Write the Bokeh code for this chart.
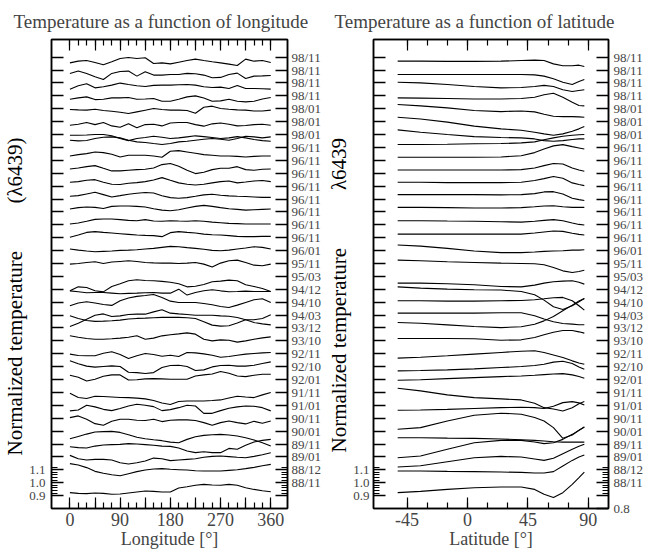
import numpy as np
from bokeh.plotting import figure
from bokeh.models import LinearAxis, FixedTicker, Range1d, Title
from bokeh.layouts import row
from bokeh.embed import file_html
from bokeh.resources import INLINE

FONT = "Liberation Serif"

# dates of the profiles, bottom (first) to top (last)
dates = ["88/11", "88/12", "89/01", "89/11", "90/01", "90/11", "91/01", "91/11",
         "92/01", "92/10", "92/11", "93/10", "93/12", "94/03", "94/10", "94/12",
         "95/03", "95/11", "96/01", "96/11", "96/11", "96/11", "96/11", "96/11",
         "96/11", "96/11", "96/11", "98/01", "98/01", "98/01", "98/11", "98/11",
         "98/11", "98/11"]

longitudes = list(range(0, 361, 15))
latitudes = [-52, -35, -15, 5, 25, 40, 50, 57, 64, 71, 78, 83, 87]

# normalized temperature vs longitude, one row per date (bottom to top)
lon_temp = [
    [0.923,0.917,0.915,0.920,0.917,0.910,0.912,0.920,0.928,0.936,0.933,0.928,0.928,0.959,0.969,0.980,0.987,0.982,0.980,0.987,0.980,0.961,0.948,0.938,0.930],
    [1.048,1.037,1.017,0.988,0.973,0.962,0.954,0.970,0.986,0.998,1.006,1.009,1.004,1.001,0.998,0.993,0.991,0.991,0.991,0.996,1.001,1.009,1.019,1.032,1.042],
    [1.012,0.986,0.976,0.981,0.981,0.976,0.955,0.945,0.955,0.968,0.991,0.986,0.971,0.976,0.981,0.986,0.997,1.004,1.007,1.002,0.997,0.994,1.004,1.017,1.033],
    [0.979,0.972,0.969,0.984,0.992,0.995,0.997,1.003,1.000,0.995,0.990,0.984,0.982,0.969,0.946,0.933,0.940,0.933,0.933,0.966,0.959,0.990,1.016,1.028,1.036],
    [0.941,0.959,0.977,0.993,0.996,0.998,0.990,0.972,0.952,0.941,0.933,0.926,0.915,0.910,0.936,0.957,0.967,0.972,0.975,0.970,0.962,0.949,0.931,0.910,0.884],
    [1.005,1.018,0.992,0.958,0.945,0.976,0.992,0.992,0.984,0.982,0.992,0.974,0.984,0.987,0.987,0.982,0.966,0.945,0.966,0.979,0.966,0.956,0.976,0.961,0.979],
    [0.957,0.964,1.001,0.988,0.969,0.959,0.975,0.995,1.008,1.001,0.990,0.959,0.967,0.982,1.001,0.995,0.938,0.938,0.959,0.977,0.988,0.995,0.993,0.982,0.957],
    [0.994,0.961,0.953,0.970,0.969,0.965,0.961,0.960,0.956,0.950,0.938,0.918,0.907,0.930,0.934,0.934,0.934,0.937,0.942,0.957,0.971,0.965,0.960,0.981,1.000],
    [1.033,1.018,0.989,1.002,1.025,1.036,1.036,0.997,0.999,1.005,1.007,1.005,1.002,1.002,1.002,1.028,1.036,1.043,1.062,1.049,1.028,1.023,1.033,1.041,1.041],
    [1.045,1.022,1.004,0.996,1.001,1.006,1.001,0.957,0.954,0.947,0.954,0.993,1.009,1.011,1.001,0.970,0.975,0.998,1.009,1.011,1.004,1.004,1.011,1.024,1.037],
    [0.997,0.986,0.984,0.984,1.004,1.015,0.994,0.963,0.984,1.002,0.994,0.981,0.989,0.979,1.010,1.007,0.999,0.989,0.973,0.979,0.989,0.997,1.002,1.007,1.010],
    [1.039,1.028,1.018,1.013,1.013,1.016,1.021,1.028,1.039,1.013,1.021,1.039,1.047,1.054,1.062,1.052,1.013,1.000,1.008,1.005,0.990,1.000,1.013,1.023,1.031],
    [1.011,1.037,1.068,1.099,1.109,1.089,1.094,1.104,1.107,1.107,1.125,1.141,1.115,1.109,1.104,1.099,1.099,1.099,1.094,1.091,1.081,1.063,1.042,1.032,1.024],
    [0.995,0.974,0.958,0.951,0.953,0.956,0.961,0.969,0.974,0.976,0.979,0.982,0.982,0.982,0.979,0.974,0.948,0.922,0.914,0.917,0.938,0.964,0.964,0.974,1.002],
    [0.972,0.993,1.003,0.993,0.982,0.975,1.011,1.032,1.045,1.052,1.060,1.037,1.008,0.998,0.998,0.998,0.990,0.980,0.967,0.959,0.977,0.998,1.019,1.026,0.998],
    [0.988,0.981,0.973,0.975,0.975,0.970,0.965,0.968,0.970,0.973,0.975,0.970,0.970,1.001,0.955,0.975,0.988,0.996,0.988,0.981,0.983,0.986,0.983,0.983,0.983],
    [0.888,0.919,0.914,0.888,0.880,0.922,0.943,0.966,0.974,0.968,0.966,0.961,0.955,0.943,0.919,0.924,0.937,0.958,0.963,0.971,0.966,0.935,0.922,0.906,0.883],
    [0.995,1.000,1.008,1.013,1.000,1.011,1.016,1.021,1.016,1.008,1.005,1.003,1.003,1.000,1.003,1.008,0.995,0.972,1.003,1.021,1.026,1.008,0.987,0.982,0.995],
    [1.012,1.004,0.997,0.991,0.994,0.997,1.002,1.004,1.007,1.012,1.017,1.025,1.033,1.030,1.023,1.017,1.010,1.002,0.999,1.004,1.012,1.020,1.030,1.025,1.012],
    [1.003,1.021,1.041,1.047,1.041,1.036,1.031,1.026,1.021,1.018,1.016,1.008,1.039,1.047,1.041,1.036,1.028,1.023,1.021,1.016,1.010,1.008,1.008,1.010,1.010],
    [1.006,1.014,1.027,1.042,1.045,1.045,1.040,1.034,1.032,1.040,1.029,1.027,1.032,1.029,1.027,1.032,1.027,1.021,1.016,1.011,1.009,1.006,1.006,1.006,1.006],
    [1.022,1.033,1.038,1.035,1.027,1.043,1.046,1.046,1.043,1.038,1.025,1.014,1.009,1.017,1.030,1.043,1.051,1.043,1.033,1.025,1.020,1.014,1.017,1.020,1.022],
    [1.021,1.026,1.039,1.052,1.034,1.016,1.026,1.037,1.045,1.050,1.047,1.026,1.011,1.006,1.011,1.021,1.032,1.037,1.029,1.024,1.021,1.019,1.016,1.013,1.013],
    [1.030,1.035,1.045,1.050,1.030,1.014,1.012,1.022,1.027,1.035,1.048,1.066,1.045,1.025,1.014,1.009,1.014,1.025,1.035,1.040,1.025,1.032,1.040,1.043,1.035],
    [1.033,1.041,1.051,1.059,1.038,1.018,1.018,1.023,1.028,1.031,1.041,1.067,1.075,1.054,1.023,0.997,1.007,1.028,1.038,1.038,1.051,1.028,1.023,1.031,1.033],
    [1.034,1.044,1.052,1.065,1.060,1.047,1.026,1.039,1.039,1.039,1.034,1.024,1.070,1.075,1.065,1.055,1.044,1.039,1.034,1.034,1.031,1.026,1.031,1.034,1.034],
    [1.056,1.051,1.054,1.069,1.079,1.082,1.074,1.056,1.043,1.038,1.030,1.023,1.030,1.043,1.048,1.056,1.064,1.069,1.064,1.056,1.069,1.087,1.082,1.074,1.082],
    [0.995,0.995,0.997,1.000,1.000,0.990,0.969,0.953,0.969,0.977,0.987,0.979,0.969,0.974,0.982,0.990,0.984,0.977,0.969,0.974,0.984,0.974,0.961,0.953,0.948],
    [0.972,0.980,0.993,0.977,0.993,0.967,0.957,0.983,0.952,0.977,0.980,0.967,0.990,0.993,0.993,0.977,0.965,0.983,0.990,0.980,0.967,0.970,0.977,0.980,0.972],
    [0.994,0.991,0.989,0.996,0.986,0.981,0.973,0.963,0.976,0.989,1.002,0.994,0.989,0.989,0.986,0.965,1.012,1.020,1.002,0.996,0.991,0.989,0.983,0.983,0.989],
    [0.974,0.984,0.992,0.971,0.974,0.984,0.984,0.987,0.974,0.976,0.979,0.958,0.958,0.974,0.992,1.000,0.984,0.958,0.961,0.974,0.958,0.953,0.958,0.976,0.987],
    [0.952,0.978,0.994,0.962,0.970,0.983,0.999,0.988,0.978,0.973,0.981,0.983,0.983,0.986,0.988,0.983,0.970,0.965,0.968,0.957,0.981,0.957,0.957,0.955,0.952],
    [0.974,0.992,0.974,0.948,0.927,0.974,0.989,0.992,0.953,0.987,0.961,0.961,0.966,0.966,0.974,0.971,0.961,0.940,0.943,0.966,0.976,0.935,0.953,0.955,0.958],
    [0.956,0.969,0.974,0.959,0.941,0.964,0.990,0.998,0.990,0.995,0.951,0.956,0.948,0.961,0.974,0.985,0.974,0.964,0.956,0.946,0.935,0.985,0.969,0.974,0.959],
]

# normalized temperature vs latitude, one row per date (bottom to top)
lat_temp = [
    [0.923,0.933,0.948,0.961,0.967,0.967,0.948,0.910,0.886,0.923,0.987,1.039,1.083],
    [0.991,0.991,0.988,0.986,0.983,0.980,0.975,0.975,0.986,1.030,1.073,1.099,1.115],
    [0.922,0.932,0.963,0.994,1.004,0.999,0.984,0.973,0.989,1.025,1.059,1.082,1.098],
    [0.894,0.907,0.959,1.010,1.028,1.028,1.016,1.003,1.010,1.036,1.075,1.106,1.132],
    [0.949,0.949,0.946,0.944,0.939,0.933,0.928,0.923,0.918,0.915,0.915,0.915,0.915],
    [0.914,0.927,0.979,1.023,1.039,1.031,1.005,0.979,0.927,0.844,0.870,0.907,0.932],
    [0.962,0.964,0.969,0.975,0.982,0.985,0.982,0.975,0.993,1.021,1.029,1.019,1.003],
    [1.032,1.012,0.981,0.960,0.950,0.942,0.916,0.882,0.872,0.856,0.882,0.913,0.929],
    [0.994,0.999,1.007,1.015,1.023,1.028,1.033,1.038,1.043,1.046,1.036,1.023,1.010],
    [0.967,0.970,0.975,0.983,0.993,1.001,1.009,1.019,1.035,1.042,1.024,0.998,0.980],
    [0.966,0.973,0.984,0.997,1.010,1.020,1.023,1.010,0.991,0.971,0.945,0.929,0.919],
    [1.018,1.018,1.018,1.016,1.005,1.008,1.026,1.047,1.067,1.080,1.080,1.070,1.060],
    [1.042,1.037,1.024,1.011,1.003,1.009,1.029,1.055,1.089,1.133,1.177,1.210,1.229],
    [1.015,1.015,1.015,1.015,1.018,1.018,0.995,0.969,0.948,0.935,0.930,0.925,0.925],
    [1.011,1.011,1.008,1.008,1.011,1.013,1.019,1.026,1.034,1.037,1.011,0.972,0.938],
    [1.019,1.009,1.001,0.996,0.994,0.983,0.957,0.916,0.864,0.843,0.872,0.903,0.929],
    [0.948,0.948,0.943,0.935,0.922,0.919,0.932,0.948,0.958,0.963,0.966,0.955,0.940],
    [1.026,1.021,1.013,1.008,1.003,1.000,0.998,0.990,0.969,0.943,0.930,0.938,0.948],
    [1.043,1.035,1.017,0.997,0.984,0.984,0.989,0.994,0.997,0.999,1.004,1.004,1.007],
    [1.028,1.028,1.028,1.028,1.028,1.028,1.036,1.044,1.052,1.049,1.034,1.026,1.021],
    [1.032,1.032,1.029,1.027,1.024,1.021,1.027,1.034,1.040,1.032,1.014,1.003,0.998],
    [1.035,1.035,1.033,1.030,1.030,1.033,1.040,1.046,1.048,1.040,1.035,1.035,1.035],
    [1.034,1.034,1.034,1.034,1.032,1.034,1.042,1.055,1.057,1.039,1.006,0.995,0.988],
    [1.030,1.030,1.027,1.027,1.027,1.030,1.043,1.058,1.074,1.061,1.025,1.012,1.004],
    [1.025,1.025,1.025,1.025,1.025,1.028,1.041,1.059,1.075,1.072,1.041,1.025,1.015],
    [1.024,1.024,1.024,1.024,1.026,1.036,1.060,1.088,1.112,1.122,1.106,1.096,1.088],
    [1.023,1.023,1.025,1.028,1.030,1.035,1.043,1.059,1.074,1.087,1.095,1.098,1.100],
    [1.036,1.018,1.000,0.984,0.977,0.974,0.966,0.953,0.948,0.953,0.961,0.966,0.966],
    [1.034,1.021,0.996,0.965,0.944,0.933,0.918,0.905,0.895,0.905,0.926,0.944,0.962],
    [1.033,1.022,1.007,0.986,0.978,0.983,0.976,0.958,0.942,0.939,0.939,0.937,0.934],
    [0.984,0.982,0.979,0.976,0.976,0.979,0.989,1.008,1.020,0.989,0.951,0.925,0.922],
    [1.006,1.001,0.988,0.973,0.962,0.965,0.973,0.981,0.973,0.947,0.934,0.942,0.947],
    [0.966,0.966,0.966,0.966,0.966,0.966,0.963,0.953,0.932,0.906,0.888,0.911,0.927],
    [0.969,0.969,0.967,0.967,0.969,0.974,0.977,0.974,0.948,0.933,0.933,0.938,0.928],
]

STEP = 0.1  # vertical offset between successive profiles
base = [round(1.0 + STEP * k, 2) for k in range(len(dates))]
y_major = [0.9] + base
y_minor = [round(0.9 + 0.02 * i, 2) for i in range(12)]
NB = "\u00a0"


def make_panel(xs, profiles, x_range, x_major, x_minor, x_labels, title, xlabel,
               ylabel, ylab_offset, title_offset, borders, frame_w, stand,
               extra_right=None):
    p = figure(frame_width=frame_w, frame_height=469,
               x_range=Range1d(*x_range), y_range=Range1d(0.8, 4.437),
               output_backend="svg", toolbar_location=None,
               min_border_left=borders[0], min_border_right=borders[1],
               min_border_top=39, min_border_bottom=46)
    p.grid.visible = False
    p.outline_line_color = "black"
    p.outline_line_width = 1.5

    p.title.text = title
    p.title.text_font = FONT
    p.title.text_font_size = "19px"
    p.title.text_font_style = "normal"
    p.title.align = "left"
    p.title.offset = title_offset
    p.title.standoff = 16

    for k, prof in enumerate(profiles):
        ys = [v + STEP * k for v in prof]
        p.line(xs, ys, line_color="black", line_width=1.1)

    xt = FixedTicker(ticks=x_major, minor_ticks=x_minor)
    bottom = p.xaxis[0]
    bottom.ticker = xt
    bottom.major_label_overrides = {t: (str(t) if t in x_labels else "") for t in x_major}
    bottom.axis_label = xlabel
    top = LinearAxis(ticker=xt, major_label_overrides={t: "" for t in x_major})
    p.add_layout(top, "above")
    for ax in [bottom, top]:
        ax.major_tick_in = 11
        ax.major_tick_out = 0
        ax.minor_tick_in = 6
        ax.minor_tick_out = 0
        ax.axis_line_width = 1.5
        ax.major_tick_line_width = 1.2
        ax.minor_tick_line_width = 1.2
        ax.major_label_text_font = FONT
        ax.major_label_text_font_size = "18px"
        ax.major_label_standoff = 4
        ax.axis_label_text_font = FONT
        ax.axis_label_text_font_size = "18px"
        ax.axis_label_text_font_style = "normal"
        ax.axis_label_standoff = 0
    top.major_label_standoff = 0
    top.major_label_text_font_size = "0px"

    yt_left = FixedTicker(ticks=y_major, minor_ticks=y_minor)
    right_ticks = list(y_major) + ([extra_right] if extra_right is not None else [])
    yt_right = FixedTicker(ticks=right_ticks, minor_ticks=y_minor)
    left = p.yaxis[0]
    left.ticker = yt_left
    left.major_label_overrides = {t: ("%.1f" % t if t in (0.9, 1.0, 1.1) else "") for t in y_major}
    right = LinearAxis(ticker=yt_right)
    over = {0.9: ""}
    for k, d in enumerate(dates):
        over[base[k]] = d
    if extra_right is not None:
        over[extra_right] = "%.1f" % extra_right
    right.major_label_overrides = over
    p.add_layout(right, "right")
    for ax in [left, right]:
        ax.major_tick_in = 12
        ax.major_tick_out = 0
        ax.minor_tick_in = 6
        ax.minor_tick_out = 0
        ax.axis_line_width = 1.5
        ax.major_tick_line_width = 1.5
        ax.minor_tick_line_width = 1.0
        ax.major_label_text_font = FONT
        ax.major_label_text_font_size = "13px"
    left.major_label_standoff = stand[0]
    right.major_label_standoff = stand[1]

    # vertical axis title
    yt = Title(text=ylabel, align="left", offset=ylab_offset, standoff=0,
               text_font=FONT, text_font_size="21px", text_font_style="normal",
               text_color="black")
    p.add_layout(yt, "left")
    return p


p1 = make_panel(longitudes, lon_temp, (-33, 390), list(range(0, 361, 45)),
                list(range(0, 361, 15)), [0, 90, 180, 270, 360],
                "Temperature as a function of longitude", "Longitude [\u00b0]",
                "Normalized temperature" + NB * 9 + "(\u03bb6439)", 53,
                -38, (50, 32), 236, (6, 4))

p2 = make_panel(latitudes, lat_temp, (-70, 105), [-45, 0, 45, 90],
                list(range(-45, 91, 15)), [-45, 0, 45, 90],
                "Temperature as a function of latitude", "Latitude [\u00b0]",
                "Normalized temperature" + NB * 11 + "\u03bb6439", 56,
                -39, (44, 38), 235, (4, 5), extra_right=0.8)

layout = row(p1, p2)
open("out.html", "w").write(file_html(layout, INLINE))
